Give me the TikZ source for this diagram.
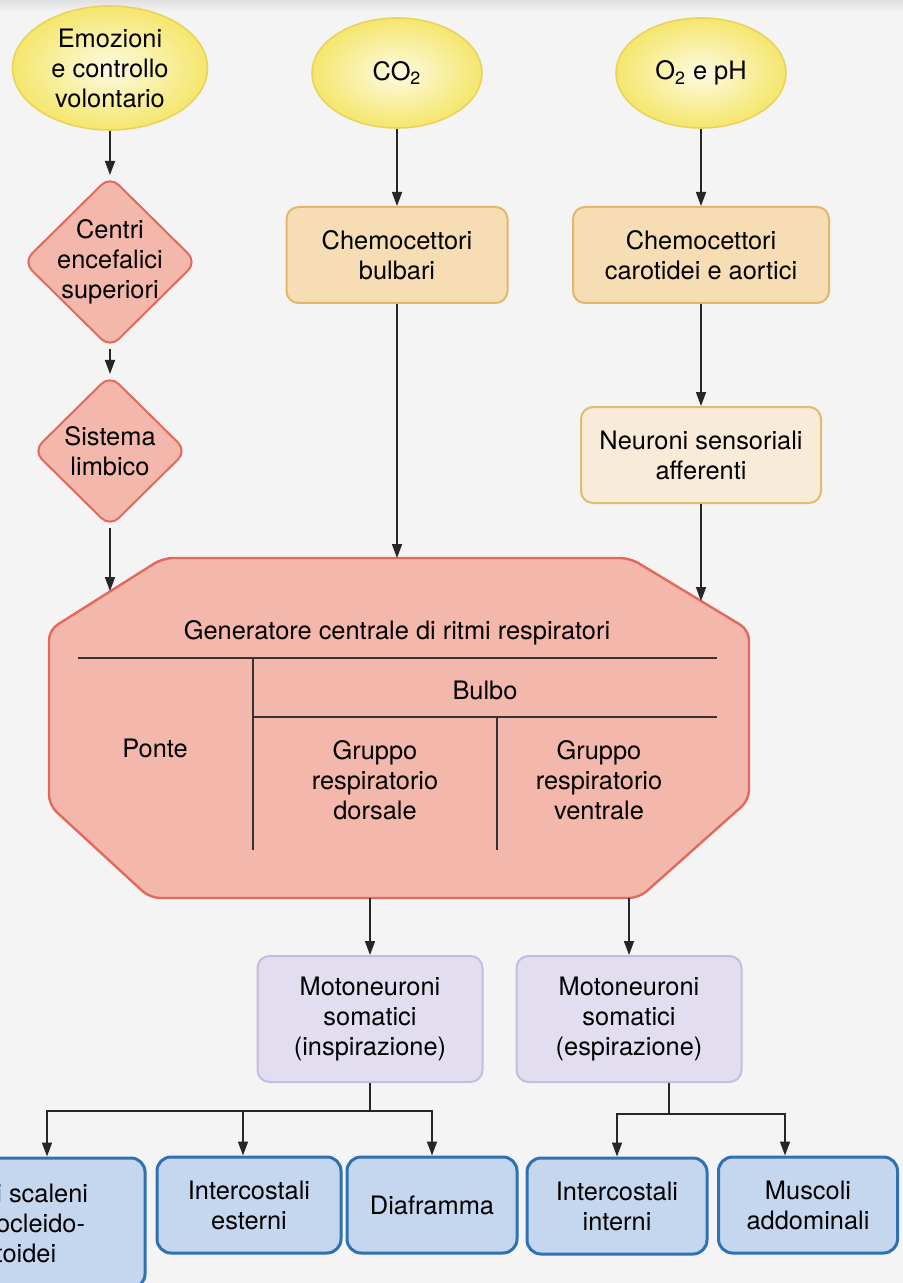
\documentclass[tikz,border=0pt]{standalone}
\usepackage{fontspec}
\setmainfont{TeX Gyre Heros}
\usetikzlibrary{shapes.geometric,arrows.meta}

\definecolor{paper}{HTML}{F4F4F4}
\definecolor{ylwin}{HTML}{FDFBE4}
\definecolor{ylwout}{HTML}{F5E66C}
\definecolor{ylwline}{HTML}{E8D45C}
\definecolor{redfill}{HTML}{F4B7AB}
\definecolor{redline}{HTML}{E16A5D}
\definecolor{tanfill}{HTML}{F7DDB3}
\definecolor{tanline}{HTML}{E2B76C}
\definecolor{creamfill}{HTML}{F8ECD9}
\definecolor{creamline}{HTML}{DEBD6E}
\definecolor{lilacfill}{HTML}{E2DEEF}
\definecolor{lilacline}{HTML}{C6BCE0}
\definecolor{bluefill}{HTML}{C4D7EE}
\definecolor{blueline}{HTML}{2F71B3}

\begin{document}
\begin{tikzpicture}[x=0.5pt, y=-0.5pt, node distance=91pt, >={Triangle[length=7pt,width=5pt]}, font=\fontsize{12.7}{15}\selectfont]
    \tikzstyle{stimulus} = [ellipse, draw=ylwline, line width=0.8pt, inner color=ylwin, outer color=ylwout, inner sep=0pt, align=center, minimum width=85pt, minimum height=55pt]
    \tikzstyle{centre} = [diamond, rounded corners=6pt, draw=redline, line width=1pt, fill=redfill, inner sep=-5pt, align=center, minimum width=87pt, minimum height=86pt]
    \tikzstyle{sensor} = [rectangle, rounded corners=6pt, draw=tanline, line width=1pt, fill=tanfill, align=center, minimum height=48pt]
    \tikzstyle{motor} = [rectangle, rounded corners=6pt, draw=lilacline, line width=1pt, fill=lilacfill, align=center, minimum width=112.5pt, minimum height=63pt]
    \tikzstyle{muscle} = [rectangle, rounded corners=7pt, draw=blueline, line width=1.5pt, fill=bluefill, align=center, minimum height=48pt]
    \tikzstyle{cpg} = [draw=redline, line width=1.2pt, fill=redfill, rounded corners=5pt]
    \tikzstyle{divider} = [draw=black!80, line width=0.9pt]
    \tikzstyle{link} = [draw=black!85, line width=0.8pt]

    \useasboundingbox (0,0) rectangle (903,1283);
    \clip (0,0) rectangle (903,1283);
    \fill[paper] (0,0) rectangle (903,1283);
    \shade[top color=black!12, bottom color=paper] (0,0) rectangle (903,12);

    % inputs
    \node (emo) [stimulus, minimum width=97.5pt, minimum height=62pt] at (110,68) {Emozioni\\e controllo\\volontario};
    \node (co2) [stimulus] at (397,73) {CO\textsubscript{2}};
    \node (o2) [stimulus] at (701,73) {O\textsubscript{2} e pH};

    \node (centri) [centre, node distance=97pt, below of=emo] {Centri\\encefalici\\superiori};
    \node (limb) [centre, minimum width=77pt, minimum height=76pt, node distance=94.5pt, below of=centri] {Sistema\\limbico};
    \node (bulb) [sensor, minimum width=110.5pt, below of=co2] {Chemocettori\\bulbari};
    \node (carot) [sensor, minimum width=128pt, below of=o2] {Chemocettori\\carotidei e aortici};
    \node (neur) [sensor, fill=creamfill, draw=creamline, minimum width=120pt, node distance=100pt, below of=carot] {Neuroni sensoriali\\afferenti};

    % central pattern generator
    \filldraw[cpg] (163,558) -- (630,558) -- (749,630) -- (749,800) -- (639,898) -- (150,898) -- (49,805) -- (49,630) -- cycle;
    \draw[divider] (78,658) -- (717,658);
    \draw[divider] (253,658) -- (253,850);
    \draw[divider] (253,717) -- (717,717);
    \draw[divider] (497,717) -- (497,850);
    \node (gen) at (397,633) {Generatore centrale di ritmi respiratori};
    \node (bulbo) at (485,690) {Bulbo};
    \node (ponte) at (155,748) {Ponte};
    \node (drg) [align=center] at (375,780) {Gruppo\\respiratorio\\dorsale};
    \node (vrg) [align=center] at (599,780) {Gruppo\\respiratorio\\ventrale};
    \coordinate (gen-limb) at (110,591);
    \coordinate (gen-bulb) at (397,558);
    \coordinate (gen-aff) at (701,601);
    \coordinate (gen-insp) at (370,898);
    \coordinate (gen-esp) at (629,898);

    % outputs
    \node (insp) [motor] at (370,1019) {Motoneuroni\\somatici\\(inspirazione)};
    \node (esp) [motor] at (629,1019) {Motoneuroni\\somatici\\(espirazione)};
    \coordinate (insp-fork) at (370,1111);
    \coordinate (esp-fork) at (669,1114);

    \node (scal) [muscle, minimum width=143pt, minimum height=65pt] at (2,1223) {Muscoli scaleni\\e sternocleido-\\mastoidei};
    \node (ext) [muscle, minimum width=92pt] at (249,1205) {Intercostali\\esterni};
    \node (diaf) [muscle, minimum width=85pt] at (432,1205) {Diaframma};
    \node (int) [muscle, minimum width=90pt] at (617,1206) {Intercostali\\interni};
    \node (addo) [muscle, minimum width=89.5pt] at (808,1205) {Muscoli\\addominali};

    \draw[link, ->] (emo) -- (centri);
    \draw[link, ->] (centri) -- (limb);
    \draw[link, ->] (limb) -- (gen-limb);
    \draw[link, ->] (co2) -- (bulb);
    \draw[link, ->] (bulb) -- (gen-bulb);
    \draw[link, ->] (o2) -- (carot);
    \draw[link, ->] (carot) -- (neur);
    \draw[link, ->] (neur) -- (gen-aff);
    \draw[link, ->] (gen-insp) -- (insp);
    \draw[link, ->] (gen-esp) -- (esp);

    \draw[link] (insp) -- (insp-fork);
    \draw[link, ->] (insp-fork) -| ([xshift=22.5pt]scal.north);
    \draw[link, ->] (insp-fork) -| ([xshift=-3pt]ext.north);
    \draw[link, ->] (insp-fork) -| (diaf);
    \draw[link] (esp.south -| esp-fork) -- (esp-fork);
    \draw[link, ->] (esp-fork) -| (int);
    \draw[link, ->] (esp-fork) -| ([xshift=-11.5pt]addo.north);
\end{tikzpicture}
\end{document}
